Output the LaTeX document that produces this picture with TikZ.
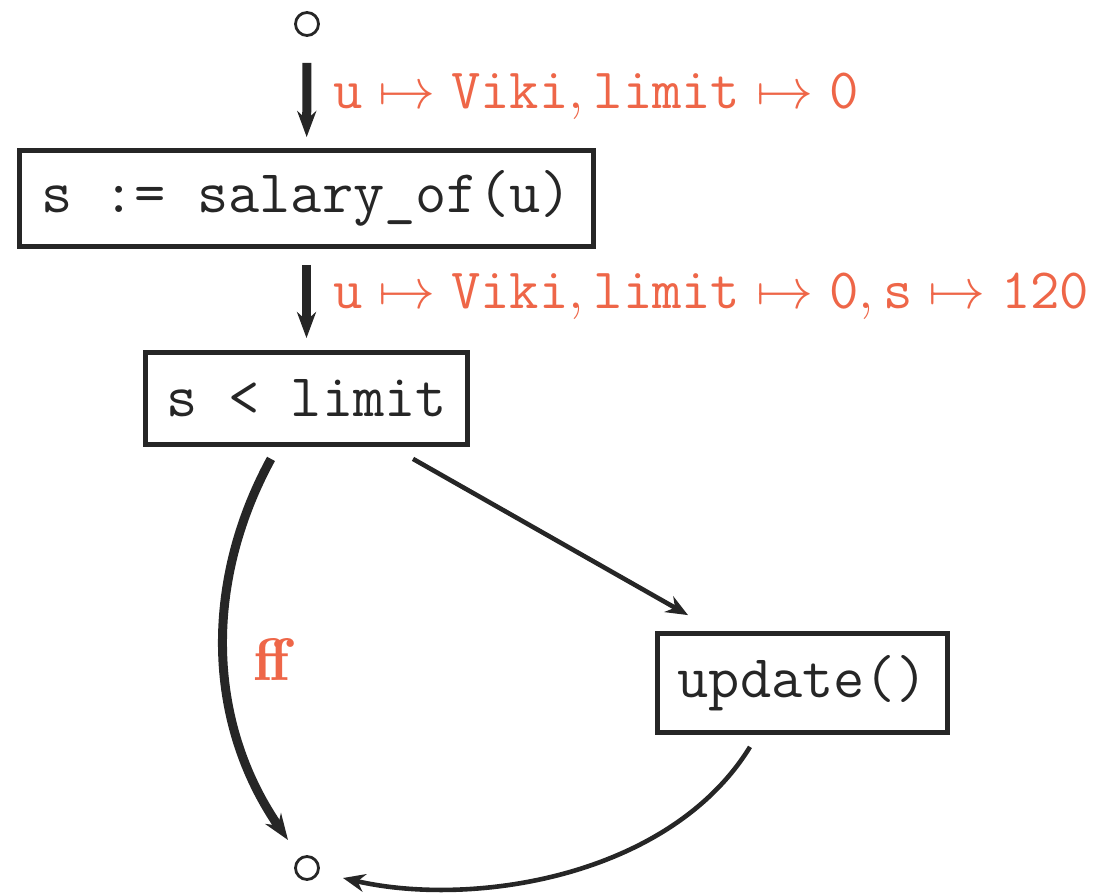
\RequirePackage{fix-cm}
\documentclass[tikz,border=0pt]{standalone}
\usetikzlibrary{arrows.meta,calc}
\definecolor{ink}{RGB}{38,38,38}
\definecolor{hl}{RGB}{238,102,72}
\tikzset{
  stmt/.style={draw=ink, line width=2.4pt, inner sep=0pt, text=ink,
    font=\fontsize{30.3}{36}\selectfont\ttfamily},
  state/.style={circle, draw=ink, line width=1.4pt, minimum size=11.5pt, inner sep=0pt},
  flow/.style={draw=ink, line width=4.5pt, -{Stealth[length=13pt,width=9.5pt]}},
  edge/.style={draw=ink, line width=2.3pt, -{Stealth[length=11pt,width=9pt]}},
  val/.style={text=hl, anchor=west, inner sep=0pt, font=\fontsize{28.5}{34}\selectfont},
  branch/.style={text=hl, inner sep=0pt, font=\fontsize{30}{36}\selectfont\fontseries{b}\selectfont},
}
\begin{document}
\begin{tikzpicture}[x=0.5pt,y=0.5pt]
  \useasboundingbox (0,0) rectangle (1098,893);

  % program points and statements
  \node[state] (entry) at (307,869) {};
  \node[stmt, minimum width=287pt, minimum height=48pt] (assign) at (306.5,694.5) {s := salary\_of(u)};
  \node[stmt, minimum width=161pt, minimum height=46pt] (cond) at (306.5,494.5) {s < limit};
  \node[stmt, minimum width=145pt, minimum height=49.5pt] (update) at (802.5,210) {update()};
  \node[state] (exit) at (307,25) {};

  % executed path
  \draw[flow, shorten <=13pt, shorten >=5.5pt] (entry) -- (assign);
  \draw[flow, shorten <=8pt, shorten >=6pt] (assign) -- (cond);

  % environments along the path
  \node[val] (env1) at (333,796) {$\mathtt{u}\mapsto\mathtt{Viki},\mathtt{limit}\mapsto\mathtt{0}$};
  \node[val] (env2) at (333,596) {$\mathtt{u}\mapsto\mathtt{Viki},\mathtt{limit}\mapsto\mathtt{0},\mathtt{s}\mapsto\mathtt{120}$};

  % false branch
  \draw[flow] ([shift={(-35.5,-12)}]cond.south)
    .. controls +(-66,-121) and +(-83,120) .. ([shift={(-19,28)}]exit.center);
  \node[branch] (ff) at (272,233) {ff};

  % true branch
  \draw[edge] ([shift={(106.5,-12)}]cond.south) -- ([shift={(-114.5,16)}]update.north);
  \draw[edge] ([shift={(-52.5,-12)}]update.south)
    .. controls +(-80,-130) and +(130,-30) .. ([shift={(36,-10)}]exit.center);
\end{tikzpicture}
\end{document}
